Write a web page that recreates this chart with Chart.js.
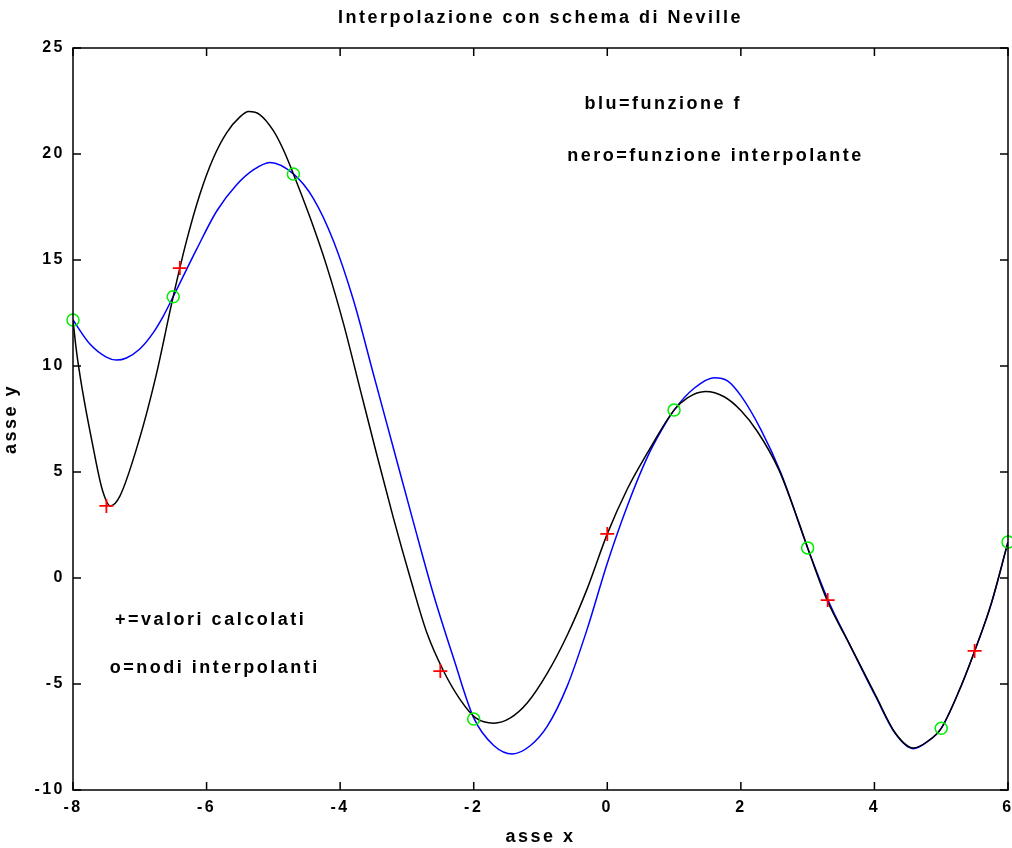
<!DOCTYPE html>
<html>
<head>
<meta charset="utf-8">
<script src="https://cdn.jsdelivr.net/npm/chart.js@4/dist/chart.umd.min.js"></script>
<style>
  html, body { margin: 0; padding: 0; background: #fff; }
  #wrap { width: 1012px; height: 848px; }
</style>
</head>
<body>
<div id="wrap"><canvas id="chart"></canvas></div>
<script>
"use strict";

// funzione f (blu)
var fX = [-8, -7.75, -7.5, -7.35, -7.2, -7, -6.8, -6.65, -6.5, -6.15, -5.85, -5.55, -5.3, -5.05, -4.7, -4.4, -4.1, -3.8, -3.5, -3.2, -2.9, -2.6, -2.3, -2, -1.7, -1.42, -1.15, -0.9, -0.6, -0.3, 0, 0.3, 0.6, 0.8, 1, 1.3, 1.6, 1.8, 2, 2.3, 2.6, 3, 3.3, 3.62, 4.02, 4.31, 4.58, 4.8, 5, 5.25, 5.5, 5.75, 6];
var fY = [12.17, 11.05, 10.42, 10.28, 10.38, 10.8, 11.56, 12.34, 13.27, 15.5, 17.3, 18.55, 19.25, 19.6, 19.06, 17.9, 15.9, 13.1, 9.6, 6.1, 2.6, -0.8, -3.8, -6.6, -7.9, -8.3, -7.9, -7.0, -5.1, -2.4, 0.7, 3.4, 5.7, 6.9, 7.92, 8.95, 9.45, 9.3, 8.6, 7.0, 4.95, 1.42, -1.0, -3.08, -5.6, -7.33, -8.05, -7.7, -7.09, -5.45, -3.45, -1.2, 1.7];

// funzione interpolante (nero)
var pX = [-8, -7.95, -7.86, -7.71, -7.56, -7.44, -7.3, -7.01, -6.76, -6.5, -6.3, -6.1, -5.9, -5.7, -5.5, -5.37, -5.2, -5, -4.85, -4.7, -4.45, -4.2, -3.95, -3.7, -3.45, -3.2, -2.95, -2.7, -2.45, -2.2, -1.97, -1.7, -1.45, -1.2, -0.9, -0.6, -0.3, 0, 0.3, 0.6, 1, 1.2, 1.47, 1.75, 2, 2.25, 2.57, 2.87, 3, 3.29, 3.62, 4.02, 4.31, 4.58, 4.8, 5, 5.25, 5.5, 5.75, 6];
var pY = [12.17, 10.75, 8.87, 6.35, 4.15, 3.4, 3.85, 6.51, 9.5, 13.27, 15.9, 18.1, 19.8, 21.0, 21.75, 22.0, 21.85, 21.1, 20.2, 19.06, 17.0, 14.7, 12.0, 8.9, 5.8, 2.8, 0.0, -2.6, -4.4, -5.75, -6.6, -6.85, -6.6, -5.9, -4.5, -2.7, -0.5, 2.08, 4.2, 5.9, 7.92, 8.5, 8.8, 8.55, 7.9, 6.9, 5.1, 2.6, 1.42, -1.04, -3.08, -5.55, -7.3, -8.02, -7.7, -7.09, -5.45, -3.45, -1.2, 1.7];

// nodi interpolanti (o verdi)
var nodiX = [-8, -6.5, -4.7, -2, 1, 3, 5, 6];
var nodiY = [12.17, 13.27, 19.06, -6.65, 7.92, 1.42, -7.09, 1.7];

// valori calcolati (+ rossi)
var calcX = [-7.5, -6.4, -2.5, 0, 3.3, 5.5];
var calcY = [3.4, 14.62, -4.39, 2.08, -1.04, -3.44];

// testi nel grafico, in coordinate dei dati
var notes = [
  { text: 'blu=funzione f', x: -0.34, y: 22.35 },
  { text: 'nero=funzione interpolante', x: -0.6, y: 19.9 },
  { text: '+=valori calcolati', x: -7.37, y: -2 },
  { text: 'o=nodi interpolanti', x: -7.45, y: -4.25 }
];

function pts(xs, ys) {
  return xs.map(function(x, i) { return { x: x, y: ys[i] }; });
}

var FONT = "'Liberation Sans', Arial, sans-serif";
var SPACING = '2.5px';

// spaziatura larga come nel grafico originale
var spacingPlugin = {
  id: 'spacing',
  beforeLayout: function(chart) { chart.ctx.letterSpacing = SPACING; },
  beforeDraw: function(chart) { chart.ctx.letterSpacing = SPACING; }
};

var framePlugin = {
  id: 'frame',
  afterDatasetsDraw: function(chart) {
    var ctx = chart.ctx, a = chart.chartArea;
    var xs = chart.scales.x, ys = chart.scales.y;
    var len = 8;
    ctx.save();
    ctx.strokeStyle = '#000';
    ctx.lineWidth = 1.5;
    ctx.strokeRect(a.left, a.top, a.right - a.left, a.bottom - a.top);
    ctx.beginPath();
    xs.ticks.forEach(function(t) {
      var px = xs.getPixelForValue(t.value);
      ctx.moveTo(px, a.bottom); ctx.lineTo(px, a.bottom - len);
      ctx.moveTo(px, a.top); ctx.lineTo(px, a.top + len);
    });
    ys.ticks.forEach(function(t) {
      var py = ys.getPixelForValue(t.value);
      ctx.moveTo(a.left, py); ctx.lineTo(a.left + len, py);
      ctx.moveTo(a.right, py); ctx.lineTo(a.right - len, py);
    });
    ctx.stroke();

    ctx.fillStyle = '#000';
    ctx.font = 'bold 18px ' + FONT;
    ctx.textAlign = 'left';
    ctx.textBaseline = 'middle';
    notes.forEach(function(n) {
      ctx.fillText(n.text, xs.getPixelForValue(n.x), ys.getPixelForValue(n.y));
    });
    ctx.restore();
  }
};

var ctx = document.getElementById('chart').getContext('2d');
var myChart = new Chart(ctx, {
  type: 'scatter',
  data: {
    datasets: [{
      label: 'f',
      data: pts(fX, fY),
      showLine: true,
      borderColor: '#0000ff',
      borderWidth: 1.5,
      pointRadius: 0,
      cubicInterpolationMode: 'monotone',
      order: 3
    }, {
      label: 'interpolante',
      data: pts(pX, pY),
      showLine: true,
      borderColor: '#000000',
      borderWidth: 1.5,
      pointRadius: 0,
      cubicInterpolationMode: 'monotone',
      order: 2
    }, {
      label: 'nodi',
      data: pts(nodiX, nodiY),
      showLine: false,
      pointStyle: 'circle',
      pointRadius: 6,
      borderColor: '#00ee00',
      backgroundColor: 'rgba(0,0,0,0)',
      borderWidth: 1.5,
      clip: false,
      order: 1
    }, {
      label: 'calcolati',
      data: pts(calcX, calcY),
      showLine: false,
      pointStyle: 'cross',
      pointRadius: 7,
      borderColor: '#ff0000',
      borderWidth: 1.8,
      clip: false,
      order: 0
    }]
  },
  options: {
    responsive: true,
    maintainAspectRatio: false,
    animation: false,
    layout: { autoPadding: false, padding: { left: 0, right: 4, top: 0, bottom: 0 } },
    plugins: {
      legend: { display: false },
      tooltip: { enabled: false },
      title: {
        display: true,
        fullSize: false,
        text: 'Interpolazione con schema di Neville',
        color: '#000',
        font: { family: FONT, size: 18, weight: 'bold', lineHeight: 1.2 },
        padding: { top: 7, bottom: 19.4 }
      }
    },
    scales: {
      x: {
        type: 'linear',
        min: -8,
        max: 6,
        grid: { display: false, drawTicks: false },
        border: { display: false },
        ticks: {
          stepSize: 2,
          padding: 8,
          color: '#000',
          font: { family: FONT, size: 16, weight: 'bold' }
        },
        title: {
          display: true,
          text: 'asse x',
          color: '#000',
          font: { family: FONT, size: 18, weight: 'bold' },
          padding: { top: 4, bottom: 0 }
        },
        afterFit: function(s) { s.height = 58; s.paddingLeft = 0; s.paddingRight = 0; }
      },
      y: {
        type: 'linear',
        min: -10,
        max: 25,
        grid: { display: false, drawTicks: false },
        border: { display: false },
        ticks: {
          stepSize: 5,
          padding: 8,
          color: '#000',
          font: { family: FONT, size: 16, weight: 'bold' }
        },
        title: {
          display: true,
          text: 'asse y',
          color: '#000',
          font: { family: FONT, size: 18, weight: 'bold' },
          padding: { top: 0, bottom: 0 }
        },
        afterFit: function(s) { s.width = 73; s.paddingTop = 0; s.paddingBottom = 0; }
      }
    }
  },
  plugins: [spacingPlugin, framePlugin]
});
</script>
</body>
</html>
